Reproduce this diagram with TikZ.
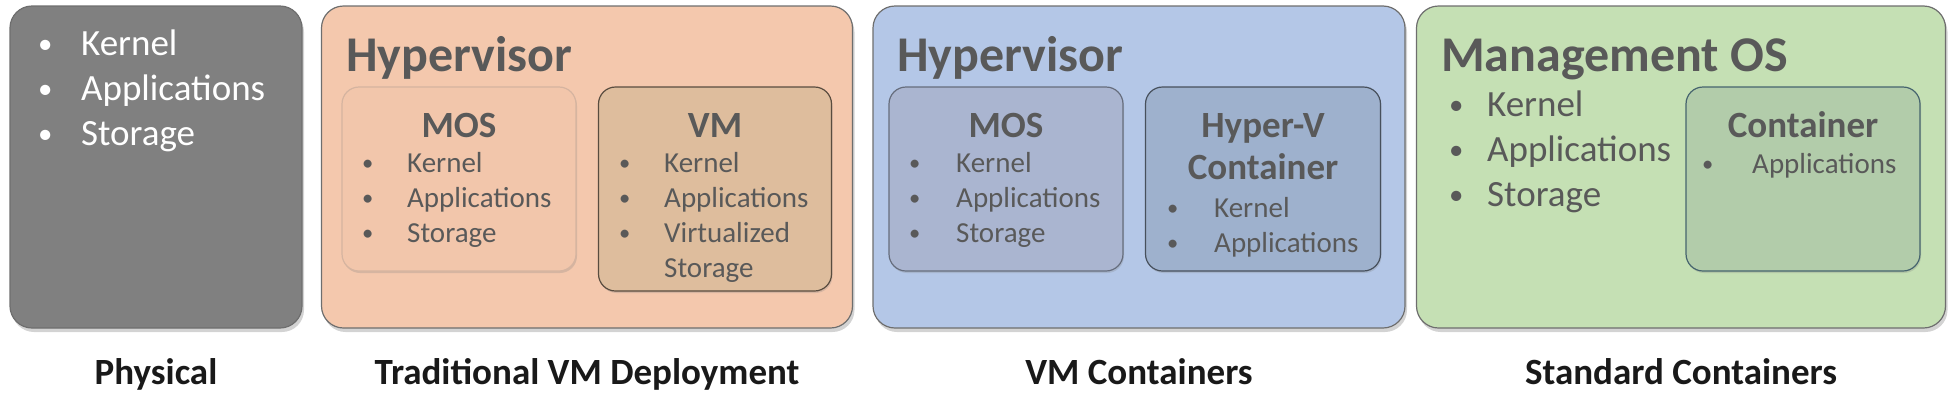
\documentclass[tikz,border=0pt]{standalone}
\usepackage{fontspec}
\setmainfont{Carlito}
\usetikzlibrary{shadows}

\definecolor{physfill}{RGB}{128,128,128}
\definecolor{tradfill}{RGB}{244,200,173}
\definecolor{tmosfill}{RGB}{242,198,171}
\definecolor{tvmfill}{RGB}{222,189,157}
\definecolor{vmcfill}{RGB}{180,199,231}
\definecolor{vmosfill}{RGB}{170,181,208}
\definecolor{hypfill}{RGB}{158,177,205}
\definecolor{stdfill}{RGB}{197,224,180}
\definecolor{contfill}{RGB}{178,204,170}
\definecolor{contedge}{RGB}{70,100,110}
\definecolor{boxtext}{RGB}{89,89,89}
\definecolor{edge}{RGB}{110,110,110}

\newcommand{\bitem}[2]{\makebox[#1][l]{\raisebox{0.06em}{\scalebox{0.78}{\textbullet}}}#2}

\begin{document}
\begin{tikzpicture}[x=1pt,y=-1pt]
        \tikzstyle{every node}=[inner sep=0pt, text height=0.72em, text depth=0.22em]
        \tikzstyle{outer}=[draw=edge, line width=1.2pt, rounded corners=22pt,
                drop shadow={opacity=0.35, shadow xshift=2pt, shadow yshift=-4pt}]
        \tikzstyle{inner}=[line width=1.2pt, rounded corners=17pt,
                drop shadow={opacity=0.25, shadow xshift=1pt, shadow yshift=-2pt}]
        \tikzstyle{head}=[font=\fontsize{50}{58}\selectfont\bfseries, text=boxtext, anchor=west]
        \tikzstyle{title}=[font=\fontsize{37}{44}\selectfont\bfseries, text=boxtext]
        \tikzstyle{bigtext}=[font=\fontsize{37}{44}\selectfont, text=boxtext, anchor=west]
        \tikzstyle{smalltext}=[font=\fontsize{29}{35}\selectfont, text=boxtext, anchor=west]
        \tikzstyle{caption}=[font=\fontsize{37}{44}\selectfont\bfseries, text=black!90]
        \useasboundingbox (0,0) rectangle (1956,416);

        % Physical
        \node (phys) [outer, fill=physfill, minimum width=292pt, minimum height=322pt] at (156,167) {};
        \foreach \t [count=\i] in {Kernel, Applications, Storage}
          \node (pk\i) [bigtext, text=white] at (38,{53+45*(\i-1)}) {\bitem{43pt}{\t}};
        \node (physcap) [caption] at (156,382) {Physical};

        % Traditional VM deployment
        \node (trad) [outer, fill=tradfill, minimum width=531pt, minimum height=322pt] at (587,167) {};
        \node (thyp) [head] at (346,69) {Hypervisor};
        \node (tmos) [inner, fill=tmosfill, draw=tmosfill!75!gray, minimum width=234pt, minimum height=184pt] at (459,179) {};
        \node (tmost) [title] at (tmos.center |- 0,135) {MOS};
        \foreach \t [count=\i] in {Kernel, Applications, Storage}
          \node (tm\i) [smalltext] at (362,{170+35*(\i-1)}) {\bitem{45pt}{\t}};
        \node (tvm) [inner, fill=tvmfill, draw=tvmfill!40!black, minimum width=233pt, minimum height=204pt] at (715,189) {};
        \node (tvmt) [title] at (tvm.center |- 0,135) {VM};
        \foreach \t [count=\i] in {Kernel, Applications, Virtualized}
          \node (tv\i) [smalltext] at (619,{170+35*(\i-1)}) {\bitem{45pt}{\t}};
        \node (tv4) [smalltext] at (664,275) {Storage};
        \node (tradcap) [caption] at (587,382) {Traditional VM Deployment};

        % VM containers
        \node (vmc) [outer, fill=vmcfill, minimum width=532pt, minimum height=322pt] at (1139,167) {};
        \node (vhyp) [head] at (897,69) {Hypervisor};
        \node (vmos) [inner, fill=vmosfill, draw=vmosfill!60!black, minimum width=234pt, minimum height=184pt] at (1006,179) {};
        \node (vmost) [title] at (vmos.center |- 0,135) {MOS};
        \foreach \t [count=\i] in {Kernel, Applications, Storage}
          \node (vm\i) [smalltext] at (909,{170+35*(\i-1)}) {\bitem{47pt}{\t}};
        \node (hyp) [inner, fill=hypfill, draw=hypfill!45!black, minimum width=235pt, minimum height=184pt] at (1263,179) {};
        \node (hypt1) [title] at (hyp.center |- 0,135) {Hyper-V};
        \node (hypt2) [title] at (hyp.center |- 0,177) {Container};
        \foreach \t [count=\i] in {Kernel, Applications}
          \node (hv\i) [smalltext] at (1167,{215+35*(\i-1)}) {\bitem{47pt}{\t}};
        \node (vmccap) [caption] at (1139,382) {VM Containers};

        % Standard containers
        \node (std) [outer, fill=stdfill, minimum width=529pt, minimum height=322pt] at (1681,167) {};
        \node (mgmt) [head] at (1441,69) {Management OS};
        \foreach \t [count=\i] in {Kernel, Applications, Storage}
          \node (sm\i) [bigtext] at (1449,{114+45*(\i-1)}) {\bitem{38pt}{\t}};
        \node (cont) [inner, fill=contfill, draw=contedge, minimum width=234pt, minimum height=184pt] at (1803,179) {};
        \node (contt) [title] at (cont.center |- 0,135) {Container};
        \node (ca1) [smalltext] at (1702,171) {\bitem{50pt}{Applications}};
        \node (stdcap) [caption] at (1681,382) {Standard Containers};
\end{tikzpicture}
\end{document}
